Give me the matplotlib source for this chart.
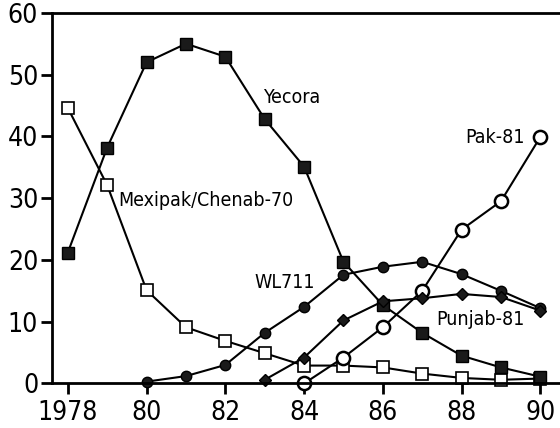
import numpy as np
import matplotlib
matplotlib.use('Agg')
import matplotlib.pyplot as plt

plt.rcParams['font.family'] = ['DejaVu Sans']
plt.rcParams['font.stretch'] = 'condensed'

# data, % of wheat area by variety
years = list(range(1978, 1991))
yecora = [21.2, 38.2, 52.0, 55.0, 52.9, 42.8, 35.1, 19.7, 12.7, 8.2, 4.5, 2.6, 1.1]
mexipak = [44.6, 32.1, 15.1, 9.1, 6.9, 4.9, 2.9, 2.9, 2.6, 1.6, 0.9, 0.6, 0.8]
wl711_years = list(range(1980, 1991))
wl711 = [0.3, 1.2, 3.0, 8.2, 12.4, 17.6, 18.9, 19.7, 17.7, 15.0, 12.2]
punjab_years = list(range(1983, 1991))
punjab = [0.6, 4.2, 10.2, 13.3, 13.8, 14.5, 14.0, 11.8]
pak_years = list(range(1984, 1991))
pak = [0.0, 4.2, 9.1, 15.0, 24.9, 29.5, 39.9]

fig = plt.figure(figsize=(5.6, 4.28), dpi=100)
ax = fig.add_axes([0.093, 0.104, 0.907, 0.866])

lw = 1.5
ax.plot(years, mexipak, '-s', color='black', mfc='white', mec='black', ms=8.5, mew=1.2, lw=lw, clip_on=False)
ax.plot(years, yecora, '-s', color='black', mfc='#1a1a1a', mec='black', ms=8, lw=lw, clip_on=False)
ax.plot(pak_years, pak, '-o', color='black', mfc='white', mec='black', ms=9.5, mew=1.8, lw=lw, clip_on=False)
ax.plot(wl711_years, wl711, '-o', color='black', mfc='#1a1a1a', mec='black', ms=7.5, lw=lw, clip_on=False)
ax.plot(punjab_years, punjab, '-D', color='black', mfc='#1a1a1a', mec='black', ms=6, lw=lw, clip_on=False)

ax.text(1982.95, 46.3, 'Yecora', fontsize=14, va='center')
ax.text(1989.6, 39.9, 'Pak-81', fontsize=14, va='center', ha='right')
ax.text(1979.27, 29.6, 'Mexipak/Chenab-70', fontsize=14, va='center')
ax.text(1982.75, 16.3, 'WL711', fontsize=14, va='center')
ax.text(1987.35, 10.3, 'Punjab-81', fontsize=14, va='center')

ax.set_xlim(1977.6, 1990.5)
ax.set_ylim(0, 60)
ax.set_xticks([1978, 1980, 1982, 1984, 1986, 1988, 1990])
ax.set_xticklabels(['1978', '80', '82', '84', '86', '88', '90'])
ax.set_yticks([0, 10, 20, 30, 40, 50, 60])
ax.tick_params(labelsize=19, width=2, length=8, direction='out', pad=2)
ax.tick_params(axis='x', pad=4)
for s in ['left', 'bottom', 'top']:
    ax.spines[s].set_linewidth(2)
ax.spines['right'].set_visible(False)

fig.savefig('out.png', dpi=100)
